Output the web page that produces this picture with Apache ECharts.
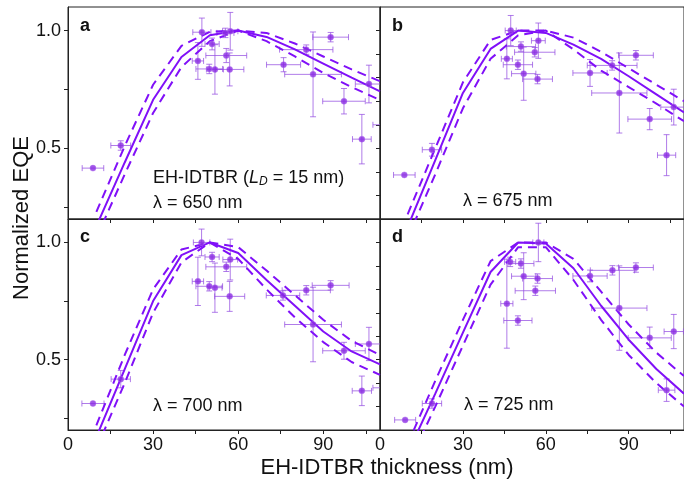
<!DOCTYPE html>
<html><head><meta charset="utf-8">
<script src="https://cdn.jsdelivr.net/npm/echarts@6/dist/echarts.min.js"></script>
<style>html,body{margin:0;padding:0;background:#fff}#c{width:684px;height:489px}</style>
</head><body><div id="c"></div>
<script>
// ---- data ----
const curveX = [10, 20, 30, 40, 50, 60, 70, 80, 90, 100, 110];

const solidA = [0.17, 0.44, 0.706, 0.888, 0.98, 1.0, 0.973, 0.92, 0.86, 0.80, 0.742];
const upperA = [0.23, 0.51, 0.77, 0.935, 0.995, 1.0, 0.99, 0.945, 0.89, 0.835, 0.785];
const lowerA = [0.12, 0.39, 0.65, 0.845, 0.955, 1.0, 0.955, 0.89, 0.82, 0.76, 0.705];

const solidB = [0.166, 0.45, 0.735, 0.922, 1.0, 0.99, 0.94, 0.88, 0.806, 0.729, 0.652];
const upperB = [0.22, 0.5, 0.78, 0.96, 1.0, 1.0, 0.97, 0.91, 0.84, 0.77, 0.70];
const lowerB = [0.12, 0.39, 0.67, 0.88, 0.98, 1.0, 0.92, 0.83, 0.76, 0.69, 0.615];

const solidC = [0.17, 0.46, 0.75, 0.946, 1.0, 0.955, 0.84, 0.73, 0.62, 0.535, 0.48];
const upperC = [0.22, 0.52, 0.80, 0.97, 1.0, 0.98, 0.88, 0.775, 0.67, 0.58, 0.52];
const lowerC = [0.12, 0.40, 0.70, 0.915, 1.0, 0.93, 0.80, 0.68, 0.575, 0.49, 0.435];

const solidD = [0.10, 0.355, 0.615, 0.874, 1.0, 0.995, 0.89, 0.73, 0.585, 0.46, 0.355];
const upperD = [0.14, 0.41, 0.67, 0.92, 1.0, 1.0, 0.93, 0.79, 0.65, 0.53, 0.43];
const lowerD = [0.05, 0.30, 0.56, 0.82, 0.98, 0.98, 0.84, 0.67, 0.52, 0.40, 0.30];

const xA = [8.8, 18.6, 47.2, 50.8, 45.8, 49.8, 51.8, 55.8, 57.0, 57.2, 55.5, 76.0, 84.0, 86.4, 92.6, 97.3, 106.1, 103.6, 112];
const yA = [0.416, 0.512, 0.993, 0.943, 0.871, 0.837, 0.835, 0.894, 0.835, 0.997, 0.99, 0.855, 0.919, 0.814, 0.972, 0.70, 0.773, 0.539, 0.60];
const xerrA = [3.8, 3.5, 3.2, 2.5, 2.0, 4.7, 3.0, 7.2, 5.0, 2.7, 3.0, 6.0, 9.4, 10.0, 6.3, 7.5, 4.8, 3.3, 4.5];
const yerrA = [0.0, 0.02, 0.06, 0.025, 0.078, 0.02, 0.105, 0.03, 0.07, 0.08, 0.02, 0.03, 0.02, 0.18, 0.02, 0.054, 0.08, 0.105, 0.03];

const xB = [8.8, 18.8, 47.3, 51.0, 45.9, 49.9, 52.0, 56.0, 57.3, 57.0, 76.0, 84.0, 86.6, 92.6, 97.6, 106.3, 103.7];
const yB = [0.387, 0.494, 1.0, 0.932, 0.88, 0.855, 0.817, 0.908, 0.957, 0.794, 0.82, 0.852, 0.735, 0.895, 0.624, 0.675, 0.471];
const xerrB = [3.9, 3.5, 2.0, 5.3, 2.0, 5.3, 4.4, 7.3, 2.5, 5.4, 6.2, 9.0, 10.0, 6.3, 7.9, 4.7, 3.3];
const yerrB = [0.0, 0.027, 0.064, 0.02, 0.085, 0.02, 0.113, 0.02, 0.075, 0.02, 0.057, 0.02, 0.17, 0.02, 0.045, 0.076, 0.087];

const xC = [8.8, 18.6, 47.1, 50.8, 45.8, 49.8, 51.8, 55.8, 57.2, 57.0, 75.8, 84.0, 86.4, 92.6, 97.3, 106.1, 103.6, 112];
const yC = [0.313, 0.417, 1.0, 0.938, 0.834, 0.813, 0.807, 0.896, 0.927, 0.77, 0.774, 0.796, 0.65, 0.817, 0.538, 0.567, 0.367, 0.38];
const xerrC = [3.9, 3.4, 2.9, 2.5, 2.0, 4.7, 2.5, 7.2, 2.6, 5.3, 5.9, 8.5, 10.0, 6.5, 7.5, 4.8, 3.4, 4.5];
const yerrC = [0.0, 0.037, 0.057, 0.02, 0.103, 0.02, 0.105, 0.02, 0.087, 0.064, 0.02, 0.02, 0.159, 0.02, 0.036, 0.071, 0.063, 0.02];

const xD = [9.1, 18.8, 57.3, 47.1, 51.0, 52.0, 57.0, 56.2, 45.9, 49.9, 76.0, 84.1, 86.6, 92.6, 97.6, 106.3, 103.7];
const yD = [0.243, 0.313, 1.0, 0.917, 0.91, 0.856, 0.846, 0.794, 0.739, 0.667, 0.857, 0.881, 0.72, 0.893, 0.593, 0.62, 0.37];
const xerrD = [3.8, 3.5, 2.0, 2.0, 4.7, 4.4, 5.4, 7.3, 2.2, 5.1, 6.2, 8.0, 10.0, 6.3, 7.8, 3.5, 3.0];
const yerrD = [0.0, 0.02, 0.082, 0.02, 0.02, 0.1, 0.02, 0.02, 0.19, 0.02, 0.025, 0.02, 0.18, 0.02, 0.046, 0.073, 0.048];

const xTickVals = [15, 30, 45, 60, 75, 90, 105];
const xLabelVals = [0, 30, 60, 90];
const yTickLeft = [0.25, 0.5, 0.75, 1.0];
const yLabelVals = [0.5, 1.0];
const yTickRight = [0.3, 0.4, 0.5, 0.6, 0.7, 0.8, 0.9, 1.0];

const panelLetters = ['a', 'b', 'c', 'd'];
const panelLambda = ['λ = 650 nm', 'λ = 675 nm', 'λ = 700 nm', 'λ = 725 nm'];

// ---- chart ----
const LINE = '#8010f8';
const PT = '#8a2be2';
const ERR = 'rgba(150,80,225,0.75)';
const FONT = '"Liberation Sans", Arial, sans-serif';

const panels = [
  {x: xA, y: yA, xe: xerrA, ye: yerrA, s: solidA, u: upperA, l: lowerA},
  {x: xB, y: yB, xe: xerrB, ye: yerrB, s: solidB, u: upperB, l: lowerB},
  {x: xC, y: yC, xe: xerrC, ye: yerrC, s: solidC, u: upperC, l: lowerC},
  {x: xD, y: yD, xe: xerrD, ye: yerrD, s: solidD, u: upperD, l: lowerD}
];

const grids = [
  {left: 68, top: 7, width: 312, height: 212},
  {left: 380, top: 7, width: 312, height: 212},
  {left: 68, top: 219, width: 312, height: 211},
  {left: 380, top: 219, width: 312, height: 211}
].map(g => Object.assign(g, {show: true, borderColor: '#222', borderWidth: 1, containLabel: false}));

const xAxes = [], yAxes = [], series = [];
for (let i = 0; i < 4; i++) {
  const bottom = i >= 2, left = i % 2 === 0;
  xAxes.push({
    type: 'value', gridIndex: i, min: 0, max: 110,
    axisLine: {show: true, lineStyle: {color: '#222', width: 1}},
    axisTick: {show: true, length: 4, customValues: xTickVals, lineStyle: {color: '#222'}},
    axisLabel: {show: bottom, customValues: xLabelVals, fontSize: 18, color: '#111', fontFamily: FONT, margin: 6},
    splitLine: {show: false}
  });
  yAxes.push({
    type: 'value', gridIndex: i, min: 0.2, max: 1.1,
    axisLine: {show: true, lineStyle: {color: '#222', width: 1}},
    axisTick: {show: true, length: 4, customValues: left ? yTickLeft : yTickRight, lineStyle: {color: '#222'}},
    axisLabel: {show: left, customValues: yLabelVals, fontSize: 18, color: '#111', fontFamily: FONT, margin: 7,
      formatter: v => v.toFixed(1)},
    splitLine: {show: false}
  });
  const p = panels[i];
  const mk = arr => curveX.map((x, k) => [x, arr[k]]);
  series.push({type: 'line', xAxisIndex: i, yAxisIndex: i, data: mk(p.s), symbol: 'none', clip: true,
    lineStyle: {color: LINE, width: 2}, z: 3});
  series.push({type: 'line', xAxisIndex: i, yAxisIndex: i, data: mk(p.u), symbol: 'none', clip: true,
    lineStyle: {color: LINE, width: 2, type: [9, 6]}, z: 3});
  series.push({type: 'line', xAxisIndex: i, yAxisIndex: i, data: mk(p.l), symbol: 'none', clip: true,
    lineStyle: {color: LINE, width: 2, type: [9, 6]}, z: 3});
  const errData = p.x.map((x, k) => [x, p.y[k], p.xe[k], p.ye[k]]);
  series.push({
    type: 'custom', xAxisIndex: i, yAxisIndex: i, data: errData, clip: true, z: 2,
    encode: {x: 0, y: 1},
    renderItem: function (params, api) {
      const x = api.value(0), y = api.value(1), xe = api.value(2), ye = api.value(3);
      const c0 = api.coord([x - xe, y]), c1 = api.coord([x + xe, y]);
      const d0 = api.coord([x, y - ye]), d1 = api.coord([x, y + ye]);
      const st = {stroke: ERR, lineWidth: 1};
      const cap = 3;
      const children = [
        {type: 'line', shape: {x1: c0[0], y1: c0[1], x2: c1[0], y2: c1[1]}, style: st},
        {type: 'line', shape: {x1: c0[0], y1: c0[1] - cap, x2: c0[0], y2: c0[1] + cap}, style: st},
        {type: 'line', shape: {x1: c1[0], y1: c1[1] - cap, x2: c1[0], y2: c1[1] + cap}, style: st}
      ];
      if (ye > 0.005) {
        children.push(
          {type: 'line', shape: {x1: d0[0], y1: d0[1], x2: d1[0], y2: d1[1]}, style: st},
          {type: 'line', shape: {x1: d0[0] - cap, y1: d0[1], x2: d0[0] + cap, y2: d0[1]}, style: st},
          {type: 'line', shape: {x1: d1[0] - cap, y1: d1[1], x2: d1[0] + cap, y2: d1[1]}, style: st}
        );
      }
      return {type: 'group', children: children};
    }
  });
  series.push({type: 'scatter', xAxisIndex: i, yAxisIndex: i, clip: true, z: 4,
    data: p.x.map((x, k) => [x, p.y[k]]), symbolSize: 6,
    itemStyle: {color: PT, borderColor: '#b070f0', borderWidth: 0.6}});
}

const letterPos = [[80, 27], [392, 27], [80, 238], [392, 238]];
const lambdaPos = [[153, 204], [463, 202], [153, 407], [464, 406]];
const graphics = [];
for (let i = 0; i < 4; i++) {
  graphics.push({type: 'text', left: letterPos[i][0], top: letterPos[i][1] - 10, z: 10,
    style: {text: panelLetters[i], font: 'bold 18px ' + FONT, fill: '#111'}});
  graphics.push({type: 'text', left: lambdaPos[i][0], top: lambdaPos[i][1] - 10, z: 10,
    style: {text: panelLambda[i], font: '18px ' + FONT, fill: '#111'}});
}
graphics.push({type: 'text', left: 153, top: 169, z: 10,
  style: {text: 'EH-IDTBR ({i|L}{s|D} = 15 nm)', font: '18px ' + FONT, fill: '#111',
    rich: {i: {fontStyle: 'italic', fontSize: 18, fontFamily: FONT, fill: '#111'},
           s: {fontStyle: 'italic', fontSize: 12, fontFamily: FONT, fill: '#111', verticalAlign: 'bottom', padding: [8, 0, 0, 0]}}}});
graphics.push({type: 'text', x: 22, y: 218, rotation: Math.PI / 2, z: 10,
  style: {text: 'Normalized EQE', font: '22px ' + FONT, fill: '#111', align: 'center', verticalAlign: 'middle'}});
graphics.push({type: 'text', x: 387, y: 468, z: 10,
  style: {text: 'EH-IDTBR thickness (nm)', font: '22px ' + FONT, fill: '#111', align: 'center', verticalAlign: 'middle'}});

const chart = echarts.init(document.getElementById('c'));
chart.setOption({
  animation: false,
  grid: grids, xAxis: xAxes, yAxis: yAxes, series: series, graphic: graphics
});
</script></body></html>
